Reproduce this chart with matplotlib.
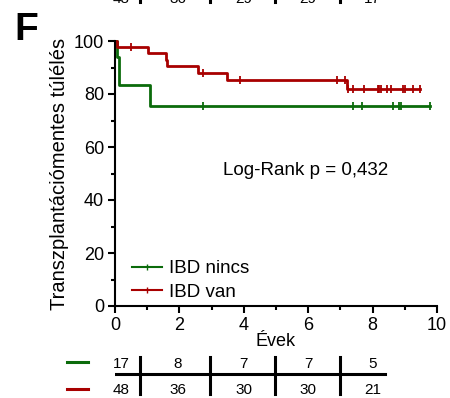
import matplotlib
matplotlib.use("Agg")
import matplotlib.pyplot as plt
from matplotlib.lines import Line2D

plt.rcParams['font.family'] = ['Liberation Sans', 'DejaVu Sans']

# Kaplan-Meier steps (years, %)
green_t = [0, 0.07, 0.12, 1.09, 9.79]
green_s = [100, 94.1, 83.5, 75.5, 75.5]
green_cens_t = [2.74, 7.38, 7.66, 8.64, 8.83, 8.88, 9.79]

red_t = [0, 0.06, 1.03, 1.58, 1.62, 2.59, 3.47, 7.19, 9.47]
red_s = [100, 97.9, 95.6, 93.0, 90.6, 87.8, 85.3, 81.9, 81.9]
red_cens_t = [0.49, 2.72, 3.88, 6.88, 7.14, 7.25, 7.40, 7.74, 8.16, 8.20,
              8.26, 8.44, 8.58, 8.93, 9.0, 9.25, 9.47]

# number at risk
risk_pos = [0.2, 1.95, 4.0, 6.0, 8.0]
risk_green = [17, 8, 7, 7, 5]
risk_red = [48, 36, 30, 30, 21]
risk_prev = [48, 36, 29, 29, 17]
risk_sep = [0.78, 2.95, 4.97, 6.99]

GREEN = '#0b6b0b'
RED = '#a80000'


def surv_at(ts, ss, t):
    val = ss[0]
    for ti, si in zip(ts, ss):
        if ti <= t:
            val = si
    return val


fig = plt.figure(figsize=(4.5, 3.98), dpi=100)
ax = fig.add_axes([115 / 450, 1 - 306 / 398, 322 / 450, 265 / 398])

ax.step(green_t, green_s, where='post', color=GREEN, lw=2, clip_on=False)
ax.step(red_t, red_s, where='post', color=RED, lw=2, clip_on=False)
ax.plot(green_cens_t, [surv_at(green_t, green_s, t) for t in green_cens_t],
        ls='none', marker='|', ms=6, mew=1.3, color=GREEN, clip_on=False)
ax.plot(red_cens_t, [surv_at(red_t, red_s, t) for t in red_cens_t],
        ls='none', marker='|', ms=6, mew=1.3, color=RED, clip_on=False)

ax.set_xlim(0, 10)
ax.set_ylim(0, 100)
ax.set_xticks([0, 2, 4, 6, 8, 10])
ax.set_xticks([1, 3, 5, 7, 9], minor=True)
ax.set_yticks([0, 20, 40, 60, 80, 100])
ax.set_yticks([10, 30, 50, 70, 90], minor=True)
for s in ['top', 'right']:
    ax.spines[s].set_visible(False)
for s in ['left', 'bottom']:
    ax.spines[s].set_linewidth(1.5)
ax.tick_params(which='major', length=5, width=1.5, labelsize=13, pad=3)
ax.tick_params(which='minor', length=3, width=1.5)

ax.set_xlabel('Évek', fontsize=13, labelpad=-1)
ax.set_ylabel('Transzplantációmentes túlélés', fontsize=14.5, labelpad=3)

ax.text(5.93, 51, 'Log-Rank p = 0,432', fontsize=13.5, ha='center',
        va='center')

handles = [Line2D([], [], color=GREEN, lw=1.5, marker='|', ms=5),
           Line2D([], [], color=RED, lw=1.5, marker='|', ms=5)]
ax.legend(handles, ['IBD nincs', 'IBD van'], loc='lower left',
          bbox_to_anchor=(0.0, -0.045), frameon=False, fontsize=13.5,
          handlelength=1.6, handletextpad=0.4, labelspacing=0.35)

fig.text(14 / 450, 1 - 30 / 398, 'F', fontsize=28, fontweight='bold',
         ha='left', va='center')

# risk table
rt = fig.add_axes([115 / 450, 0.0, 322 / 450, 1 - 352 / 398])
rt.set_xlim(0, 10)
rt.set_ylim(0, 1)
rt.axis('off')
for x, g, r in zip(risk_pos, risk_green, risk_red):
    rt.text(x, 0.75, str(g), ha='center', va='center', fontsize=11)
    rt.text(x, 0.18, str(r), ha='center', va='center', fontsize=11)
rt.plot([-0.12, 8.4], [0.52, 0.52], color='black', lw=2.2)
for x in risk_sep:
    rt.plot([x, x], [0.08, 0.9], color='black', lw=2.2)
rt.plot([-1.5, -0.85], [0.78, 0.78], color=GREEN, lw=2.2, clip_on=False)
rt.plot([-1.5, -0.85], [0.2, 0.2], color=RED, lw=2.2, clip_on=False)

# cut-off row of the panel above
top = fig.add_axes([115 / 450, 1.0, 322 / 450, 0.05])
top.set_xlim(0, 10)
top.set_ylim(0, 1)
top.axis('off')
for x, v in zip(risk_pos, risk_prev):
    top.text(x, 0.05, str(v), ha='center', va='center', fontsize=11,
             clip_on=False)
for x in risk_sep:
    top.plot([x, x], [-0.1, 0.6], color='black', lw=2.2, clip_on=False)

fig.savefig('out.png', dpi=100)
